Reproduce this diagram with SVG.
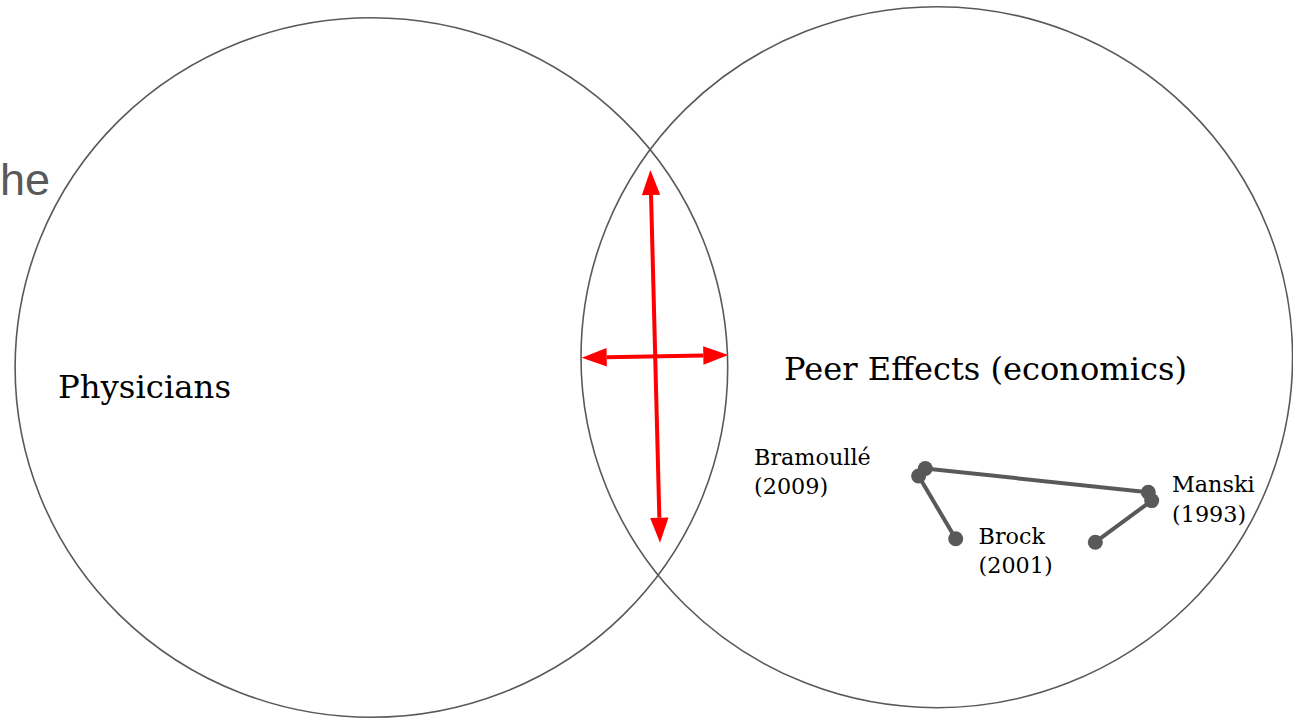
<svg xmlns="http://www.w3.org/2000/svg" width="1293" height="719" viewBox="0 0 1293 719">
<style>
.circle{fill:none;stroke:#595959;stroke-width:1.6}
.big{font-family:"DejaVu Serif","Liberation Serif",serif;font-size:32px;fill:#000}
.small{font-family:"DejaVu Serif","Liberation Serif",serif;font-size:22.3px;fill:#000}
.grey{font-family:"Liberation Sans",Arial,sans-serif;font-size:45px;fill:#595959}
.arrow{stroke:#ff0000;stroke-width:4;fill:none}
.edge{stroke:#595959;stroke-width:4;fill:none}
.dot{fill:#595959}
</style>
<defs>
<marker id="head" markerUnits="userSpaceOnUse" markerWidth="26" markerHeight="20" refX="0" refY="9.2" orient="auto-start-reverse" overflow="visible">
<path d="M0,0 L25,9.2 L0,18.4 Z" fill="#ff0000"/>
</marker>
</defs>
<text class="grey" x="0" y="195">he</text>
<g id="physicians">
<ellipse class="circle" cx="371.4" cy="367.5" rx="356.3" ry="349.8"/>
<text class="big" x="58" y="398.3" textLength="173" lengthAdjust="spacingAndGlyphs">Physicians</text>
</g>
<g id="peer-effects">
<ellipse class="circle" cx="936.8" cy="357.2" rx="355.8" ry="350.5"/>
<text class="big" x="784" y="380" textLength="403" lengthAdjust="spacingAndGlyphs">Peer Effects (economics)</text>
</g>
<g id="connectors">
<line class="arrow" x1="606.7" y1="357.24" x2="703.3" y2="355.46" marker-start="url(#head)" marker-end="url(#head)"/>
<line class="arrow" x1="651.04" y1="195" x2="659.36" y2="517.7" marker-start="url(#head)" marker-end="url(#head)"/>
<line class="edge" x1="925.3" y1="468.5" x2="1148.3" y2="492.2"/>
<line class="edge" x1="918.6" y1="476" x2="955.7" y2="538.8"/>
<line class="edge" x1="1151.7" y1="500.6" x2="1095.3" y2="542.2"/>
</g>
<g id="bramoulle">
<circle class="dot" cx="925.3" cy="468.5" r="7.5"/>
<circle class="dot" cx="918.6" cy="476" r="7.5"/>
<text class="small" x="754" y="465">Bramoullé</text>
<text class="small" x="754" y="494">(2009)</text>
</g>
<g id="brock">
<circle class="dot" cx="955.7" cy="538.8" r="7.5"/>
<text class="small" x="978.5" y="543.5">Brock</text>
<text class="small" x="978.5" y="572.5">(2001)</text>
</g>
<g id="manski">
<circle class="dot" cx="1148.3" cy="492.2" r="7.5"/>
<circle class="dot" cx="1151.7" cy="500.6" r="7.5"/>
<circle class="dot" cx="1095.3" cy="542.2" r="7.5"/>
<text class="small" x="1172" y="491.7">Manski</text>
<text class="small" x="1172" y="521.7">(1993)</text>
</g>
</svg>
